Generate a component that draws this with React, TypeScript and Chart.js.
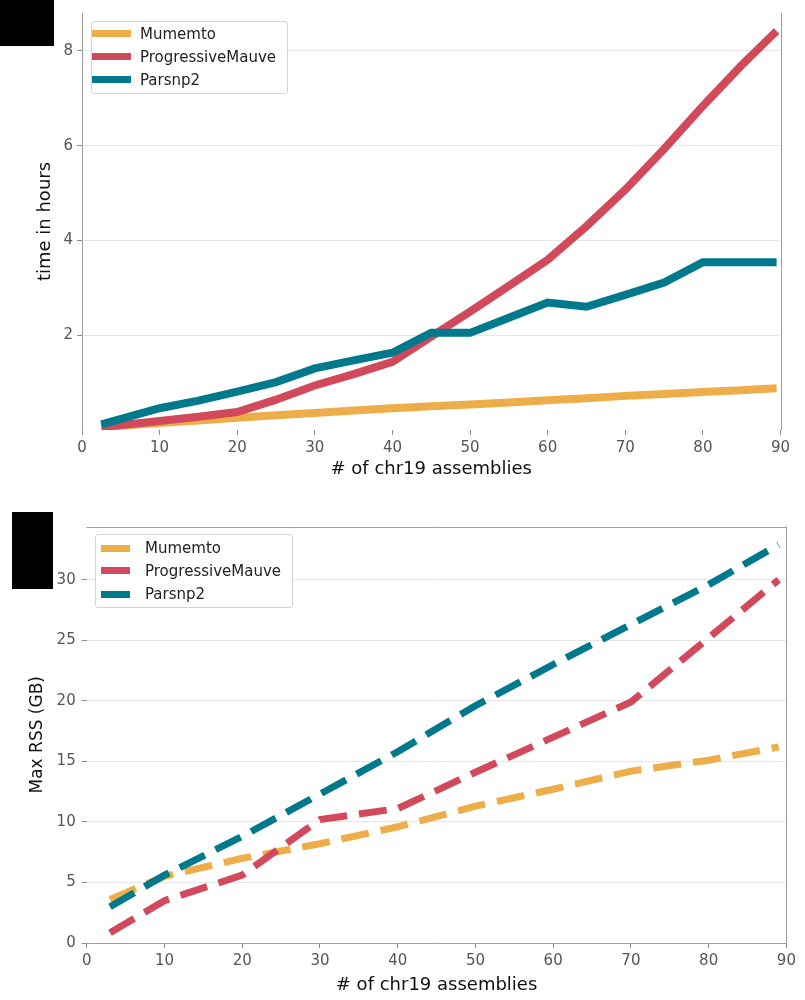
import React, { useEffect, useRef } from "react";
import { Chart, registerables } from "chart.js";

Chart.register(...registerables);

// ---------- data ----------
const seriesNames = ["Mumemto", "ProgressiveMauve", "Parsnp2"];
const seriesColors = ["#edae49", "#d1495b", "#00798c"];

// top panel: run time (hours)
const timeX = [2.5, 10, 15, 20, 25, 30, 35, 40, 45, 50, 55, 60, 65, 70, 75, 80, 85, 89.5];
const timeMumemto = [0.06, 0.15, 0.2, 0.26, 0.31, 0.36, 0.41, 0.46, 0.5, 0.54, 0.58, 0.63, 0.67, 0.72, 0.76, 0.8, 0.84, 0.88];
const timeMauve = [0.06, 0.19, 0.28, 0.38, 0.64, 0.94, 1.18, 1.44, 1.97, 2.5, 3.04, 3.59, 4.3, 5.07, 5.93, 6.84, 7.7, 8.42];
const timeParsnp = [0.12, 0.46, 0.62, 0.81, 1.01, 1.3, 1.47, 1.63, 2.05, 2.05, 2.37, 2.69, 2.6, 2.85, 3.11, 3.54, 3.54, 3.54];

// bottom panel: max RSS (GB)
const memX = [3, 10, 20, 30, 40, 50, 60, 70, 80, 89];
const memMumemto = [3.6, 5.5, 7.0, 8.2, 9.6, 11.3, 12.7, 14.2, 15.1, 16.2];
const memMauve = [0.85, 3.5, 5.6, 10.2, 11.1, 14.1, 17.0, 19.9, 25.2, 30.0];
const memParsnp = [3.0, 5.6, 8.8, 12.3, 15.8, 19.6, 23.0, 26.3, 29.6, 32.9];

// ticks / labels
const xTicks = [0, 10, 20, 30, 40, 50, 60, 70, 80, 90];
const timeYTicks = [2, 4, 6, 8];
const memYTicks = [0, 5, 10, 15, 20, 25, 30];
const xTitle = "# of chr19 assemblies";
const timeYTitle = "time in hours";
const memYTitle = "Max RSS (GB)";

const FONT = "'DejaVu Sans', 'Noto Sans', sans-serif";
const TICK_COLOR = "#555555";
const TICKMARK_COLOR = "#8a8a8a";
const SPINE_COLOR = "#9c9c9c";
const GRID_COLOR = "#e6e6e6";

const framePlugin = {
  id: "frame",
  beforeDatasetsDraw(chart: any, _args: any, opts: any) {
    const { ctx, chartArea: a } = chart;
    ctx.save();
    ctx.strokeStyle = opts.color || SPINE_COLOR;
    ctx.lineWidth = 1;
    ctx.beginPath();
    if (opts.top) {
      ctx.moveTo(a.left, Math.round(a.top) + 0.5);
      ctx.lineTo(a.right, Math.round(a.top) + 0.5);
    }
    if (opts.right) {
      ctx.moveTo(Math.round(a.right) + 0.5, a.top);
      ctx.lineTo(Math.round(a.right) + 0.5, a.bottom);
    }
    ctx.stroke();
    ctx.restore();
  },
};

function buildDatasets(x: number[], ys: number[][], width: number, dash: number[]) {
  return seriesNames.map((name, i) => ({
    label: name,
    data: x.map((xv, j) => ({ x: xv, y: ys[i][j] })),
    borderColor: seriesColors[i],
    backgroundColor: seriesColors[i],
    borderWidth: width,
    borderDash: dash,
    borderCapStyle: "butt",
    borderJoinStyle: "miter",
    pointRadius: 0,
    pointHoverRadius: 0,
    tension: 0,
    fill: false,
    order: 2 - i,
  }));
}

type PanelProps = {
  top: number;
  height: number;
  x: number[];
  ys: number[][];
  lineWidth: number;
  dash: number[];
  yMax: number;
  yTicks: number[];
  yTitle: string;
  yTitleSize: number;
  yTitlePad: number;
  yWidth: number;
  yTickPad: number;
  xHeight: number;
  xTitlePad: number;
  padTop: number;
  padRight: number;
  leftSpine: boolean;
  bottomSpine: boolean;
  topSpine: boolean;
};

function Panel(p: PanelProps) {
  const ref = useRef<HTMLCanvasElement | null>(null);
  useEffect(() => {
    if (!ref.current) return;
    const chart = new Chart(ref.current, {
      type: "line",
      data: { datasets: buildDatasets(p.x, p.ys, p.lineWidth, p.dash) as any },
      options: {
        responsive: false,
        animation: false,
        events: [],
        layout: { padding: { top: p.padTop, right: p.padRight, bottom: 0, left: 0 } },
        plugins: {
          legend: { display: false },
          tooltip: { enabled: false },
          frame: { top: p.topSpine, right: true, color: SPINE_COLOR },
        } as any,
        scales: {
          x: {
            type: "linear",
            min: 0,
            max: 90,
            afterBuildTicks: (s: any) => {
              s.ticks = xTicks.map((v) => ({ value: v }));
            },
            afterFit: (s: any) => {
              s.height = p.xHeight;
            },
            ticks: { font: { family: FONT, size: 15 }, color: TICK_COLOR, padding: 4, maxRotation: 0, autoSkip: false },
            grid: { drawOnChartArea: false, drawTicks: true, tickLength: 5, tickColor: TICKMARK_COLOR },
            border: { display: p.bottomSpine, color: SPINE_COLOR, width: 1 },
            title: {
              display: true,
              text: xTitle,
              font: { family: FONT, size: 18 },
              color: "#111111",
              padding: { top: 0, bottom: p.xTitlePad },
            },
          },
          y: {
            type: "linear",
            min: 0,
            max: p.yMax,
            afterBuildTicks: (s: any) => {
              s.ticks = p.yTicks.map((v) => ({ value: v }));
            },
            afterFit: (s: any) => {
              s.width = p.yWidth;
            },
            ticks: { font: { family: FONT, size: 15 }, color: TICK_COLOR, padding: p.yTickPad },
            grid: { color: GRID_COLOR, drawTicks: true, tickLength: 5, tickColor: TICKMARK_COLOR },
            border: { display: p.leftSpine, color: SPINE_COLOR, width: 1 },
            title: {
              display: true,
              text: p.yTitle,
              font: { family: FONT, size: p.yTitleSize },
              color: "#111111",
              padding: { top: p.yTitlePad, bottom: 0 },
            },
          },
        },
      } as any,
      plugins: [framePlugin],
    });
    return () => chart.destroy();
  }, []);
  return (
    <canvas
      ref={ref}
      width={805}
      height={p.height}
      style={{ position: "absolute", left: 0, top: p.top, width: 805, height: p.height }}
    />
  );
}

type LegendProps = {
  left: number;
  top: number;
  width: number;
  height: number;
  swatchLeft: number;
  swatchWidth: number;
  swatchHeight: number;
  textLeft: number;
  rows: number[];
};

function Legend(l: LegendProps) {
  return (
    <>
      <div
        style={{
          position: "absolute",
          left: l.left,
          top: l.top,
          width: l.width,
          height: l.height,
          boxSizing: "border-box",
          border: "1px solid #d4d4d4",
          borderRadius: 3,
          background: "rgba(255,255,255,0.85)",
        }}
      />
      {seriesNames.map((name, i) => (
        <React.Fragment key={name}>
          <div
            style={{
              position: "absolute",
              left: l.swatchLeft,
              top: l.rows[i] - l.swatchHeight / 2,
              width: l.swatchWidth,
              height: l.swatchHeight,
              background: seriesColors[i],
            }}
          />
          <div
            style={{
              position: "absolute",
              left: l.textLeft,
              top: l.rows[i] - 10,
              height: 20,
              lineHeight: "20px",
              fontFamily: FONT,
              fontSize: 15,
              color: "#222222",
              whiteSpace: "nowrap",
            }}
          >
            {name}
          </div>
        </React.Fragment>
      ))}
    </>
  );
}

export default function App() {
  return (
    <div style={{ position: "absolute", left: 0, top: 0, width: 805, height: 1000, background: "#ffffff", overflow: "hidden" }}>
      <Panel
        top={0}
        height={490}
        x={timeX}
        ys={[timeMumemto, timeMauve, timeParsnp]}
        lineWidth={8}
        dash={[]}
        yMax={8.8}
        yTicks={timeYTicks}
        yTitle={timeYTitle}
        yTitleSize={18}
        yTitlePad={34.2}
        yWidth={82}
        yTickPad={4}
        xHeight={60}
        xTitlePad={10.2}
        padTop={13}
        padRight={24.5}
        leftSpine={true}
        bottomSpine={false}
        topSpine={false}
      />
      <Panel
        top={490}
        height={510}
        x={memX}
        ys={[memMumemto, memMauve, memParsnp]}
        lineWidth={7}
        dash={[28, 12]}
        yMax={34.4}
        yTicks={memYTicks}
        yTitle={memYTitle}
        yTitleSize={17}
        yTitlePad={27.8}
        yWidth={86.7}
        yTickPad={6}
        xHeight={57}
        xTitlePad={4.2}
        padTop={36.5}
        padRight={18.6}
        leftSpine={false}
        bottomSpine={true}
        topSpine={true}
      />
      <Legend left={91} top={21} width={197} height={73} swatchLeft={92} swatchWidth={39} swatchHeight={7.5} textLeft={140} rows={[33.5, 56.5, 79.5]} />
      <Legend left={95} top={534} width={198} height={74} swatchLeft={101} swatchWidth={29} swatchHeight={7} textLeft={145} rows={[548, 570.5, 594]} />
      <div style={{ position: "absolute", left: 0, top: 0, width: 54, height: 46, background: "#000000" }} />
      <div style={{ position: "absolute", left: 12, top: 512, width: 41, height: 77, background: "#000000" }} />
    </div>
  );
}
